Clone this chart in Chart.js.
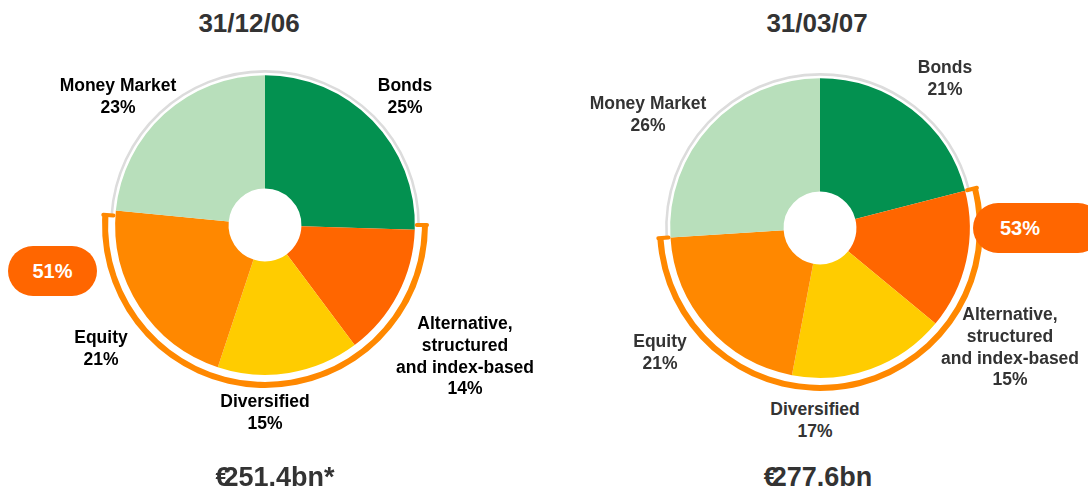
<!DOCTYPE html>
<html>
<head>
<meta charset="utf-8">
<script src="https://cdn.jsdelivr.net/npm/chart.js@4"></script>
<style>
  body { margin: 0; background: #fff; }
  #page { position: relative; width: 1088px; height: 489px; overflow: hidden; font-family: "Liberation Sans", Arial, sans-serif; }
  canvas { position: absolute; }
  .lbl { position: absolute; transform: translateX(-50%); text-align: center; font-weight: bold; font-size: 17.5px; line-height: 21.8px; white-space: nowrap; }
  .title { position: absolute; transform: translateX(-50%); font-weight: bold; font-size: 26px; line-height: 26px; color: #333; white-space: nowrap; }
  .total { position: absolute; transform: translateX(-50%); font-weight: bold; font-size: 27px; line-height: 27px; color: #333; white-space: nowrap; }
  .euro { margin-right: -7px; }
  .badge { position: absolute; background: #ff6600; color: #fff; font-weight: bold; font-size: 20px; border-radius: 25px; height: 50px; line-height: 50px; }
</style>
</head>
<body>
<div id="page">
  <canvas id="pie06" width="340" height="340"></canvas>
  <canvas id="pie07" width="340" height="340"></canvas>
</div>
<script>
const categories = [['Bonds'], ['Alternative,', 'structured', 'and index-based'], ['Diversified'], ['Equity'], ['Money Market']];
const dec06 = [25, 14, 15, 21, 23];
const mar07 = [21, 15, 17, 21, 26];
const share06 = 51;
const share07 = 53;
const dates = ['31/12/06', '31/03/07'];
const totals = ['251.4bn*', '277.6bn'];

const sliceColours = ['#039150', '#ff6600', '#ffcc00', '#ff8800', '#b8dfbb'];

const page = document.getElementById('page');

function addText(cls, x, y, html, colour) {
    const d = document.createElement('div');
    d.className = cls;
    d.style.left = x + 'px';
    d.style.top = y + 'px';
    if (colour) d.style.color = colour;
    d.innerHTML = html;
    page.appendChild(d);
    return d;
}

// little rounded stubs at both ends of the orange ring
const ringEnds = {
    id: 'ringEnds',
    afterDatasetsDraw(chart) {
        const arc = chart.getDatasetMeta(0).data[1];
        if (!arc) return;
        const { x, y, startAngle, endAngle } = arc.getProps(['x', 'y', 'startAngle', 'endAngle'], true);
        const outer = arc.outerRadius;
        const inner = chart.getDatasetMeta(4).data[0].outerRadius;
        const ctx = chart.ctx;
        ctx.save();
        ctx.strokeStyle = '#ff8800';
        ctx.lineWidth = 4;
        ctx.lineCap = 'round';
        [startAngle, endAngle].forEach(a => {
            ctx.beginPath();
            ctx.moveTo(x + Math.cos(a) * (inner + 2), y + Math.sin(a) * (inner + 2));
            ctx.lineTo(x + Math.cos(a) * (outer - 1), y + Math.sin(a) * (outer - 1));
            ctx.stroke();
        });
        ctx.restore();
    }
};

function drawPie(id, values, share, cx, cy) {
    const canvas = document.getElementById(id);
    canvas.style.left = (cx - 170) + 'px';
    canvas.style.top = (cy - 170) + 'px';
    const rest = 100 - values[0] - share;
    const ring = [values[0], share, rest];
    const flat = { borderWidth: 0, hoverBorderWidth: 0, hoverOffset: 0, offset: 0, spacing: 0 };
    new Chart(canvas.getContext('2d'), {
        type: 'doughnut',
        data: {
            labels: ['a', 'b', 'c'],
            datasets: [
                Object.assign({ data: ring, backgroundColor: ['rgba(0,0,0,0)', '#ff8800', 'rgba(0,0,0,0)'], weight: 6 }, flat),
                Object.assign({ data: [1], backgroundColor: ['rgba(0,0,0,0)'], weight: 2 }, flat),
                Object.assign({ data: ring, backgroundColor: ['#dcdcdc', 'rgba(0,0,0,0)', '#dcdcdc'], weight: 2.5 }, flat),
                Object.assign({ data: [1], backgroundColor: ['rgba(0,0,0,0)'], weight: 2.5 }, flat),
                Object.assign({ data: values, backgroundColor: sliceColours, weight: 112 }, flat)
            ]
        },
        options: {
            responsive: false,
            animation: false,
            radius: 163,
            cutout: 38,
            events: [],
            plugins: { legend: { display: false }, tooltip: { enabled: false } }
        },
        plugins: [ringEnds]
    });
}

function label(i, values, x, y, colour) {
    addText('lbl', x, y, categories[i].join('<br>') + '<br>' + values[i] + '%', colour);
}

// left chart
drawPie('pie06', dec06, share06, 265, 225);
addText('title', 249, 10, dates[0]);
label(0, dec06, 405, 75, '#000');
label(1, dec06, 465, 313, '#000');
label(2, dec06, 265, 391, '#000');
label(3, dec06, 101, 327, '#000');
label(4, dec06, 118, 75, '#000');
const b1 = addText('badge', 8, 246, share06 + '%');
b1.style.width = '89px'; b1.style.textAlign = 'center';
addText('total', 275, 464, '<span class="euro">€</span>' + totals[0]);

// right chart
drawPie('pie07', mar07, share07, 820, 228);
addText('title', 817, 10, dates[1]);
label(0, mar07, 945, 57, '#333');
label(1, mar07, 1010, 304, '#333');
label(2, mar07, 815, 399, '#333');
label(3, mar07, 660, 331, '#333');
label(4, mar07, 648, 93, '#333');
const b2 = addText('badge', 973, 203, share07 + '%');
b2.style.width = '130px'; b2.style.textAlign = 'left'; b2.style.textIndent = '27px';
addText('total', 818, 464, '<span class="euro">€</span>' + totals[1]);
</script>
</body>
</html>
